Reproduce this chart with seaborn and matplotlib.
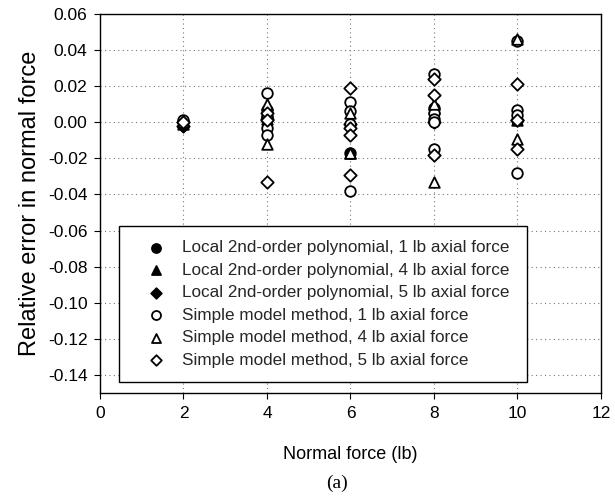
import matplotlib
matplotlib.use("Agg")
import matplotlib.pyplot as plt
import seaborn as sns
import pandas as pd

sns.set_theme(style="white")
plt.rcParams['font.family'] = ['Liberation Sans', 'DejaVu Sans']

# ---- data ----
series_names = [
    "Local 2nd-order polynomial, 1 lb axial force",
    "Local 2nd-order polynomial, 4 lb axial force",
    "Local 2nd-order polynomial, 5 lb axial force",
    "Simple model method, 1 lb axial force",
    "Simple model method, 4 lb axial force",
    "Simple model method, 5 lb axial force",
]
local1_x = [2, 4, 6, 8, 10]
local1_y = [0.000, 0.003, -0.017, 0.008, 0.001]
local4_x = [2, 4, 6, 8, 10]
local4_y = [-0.001, 0.002, -0.017, 0.008, 0.001]
local5_x = [2, 4, 6, 8, 10]
local5_y = [-0.002, 0.002, -0.001, 0.000, 0.001]
simple1_x = [2, 4, 4, 4, 4, 4, 6, 6, 6, 6, 8, 8, 8, 8, 8, 10, 10, 10, 10]
simple1_y = [0.001, 0.016, 0.007, 0.003, -0.003, -0.007,
             0.011, 0.006, -0.001, -0.038,
             0.027, 0.005, 0.002, 0.000, -0.015,
             0.045, 0.007, 0.004, -0.028]
simple4_x = [2, 4, 4, 6, 6, 8, 8, 10, 10]
simple4_y = [0.000, 0.010, -0.012, 0.005, -0.017, 0.010, -0.033, 0.046, -0.009]
simple5_x = [2, 4, 4, 4, 6, 6, 6, 6, 8, 8, 8, 10, 10, 10]
simple5_y = [0.000, 0.005, 0.001, -0.033,
             0.019, -0.003, -0.007, -0.029,
             0.024, 0.015, -0.018,
             0.021, 0.001, -0.015]

xs = [local1_x, local4_x, local5_x, simple1_x, simple4_x, simple5_x]
ys = [local1_y, local4_y, local5_y, simple1_y, simple4_y, simple5_y]
rows = []
for name, sx, sy in zip(series_names, xs, ys):
    for a, b in zip(sx, sy):
        rows.append({"Normal force": a, "Error": b, "Series": name})
df = pd.DataFrame(rows)

x_ticks = [0, 2, 4, 6, 8, 10, 12]
y_ticks = [0.06, 0.04, 0.02, 0.00, -0.02, -0.04, -0.06, -0.08, -0.10, -0.12, -0.14]

fig = plt.figure(figsize=(6.15, 4.98), dpi=100)
ax = fig.add_axes([0.1626, 0.2108, 0.8146, 0.7611])

markers = ["o", "^", "D", "o", "^", "D"]
sizes = [58, 58, 40, 58, 58, 40]
for i, name in enumerate(series_names):
    sub = df[df["Series"] == name]
    filled = i < 3
    sns.scatterplot(data=sub, x="Normal force", y="Error", ax=ax,
                    marker=markers[i], s=sizes[i],
                    color="black" if filled else "white",
                    edgecolor="black", linewidth=1.3, label=name, zorder=3)

ax.set_xlim(0, 12)
ax.set_ylim(-0.15, 0.06)
ax.set_xticks(x_ticks)
ax.set_yticks(y_ticks)
ax.set_xticklabels([str(t) for t in x_ticks])
ax.set_yticklabels([f"{t:.2f}" for t in y_ticks])
ax.grid(True, color="#777777", linestyle=(0, (1, 3)), linewidth=0.8)
ax.set_axisbelow(True)
for sp in ax.spines.values():
    sp.set_color("black")
    sp.set_linewidth(1.0)
ax.tick_params(axis="both", direction="out", length=4, width=0.8, color="black",
               labelsize=12.5, labelcolor="black", bottom=True, left=True, pad=5)
ax.set_xlabel("Normal force (lb)", fontsize=13, color="black", labelpad=18)
ax.set_ylabel("Relative error in normal force", fontsize=17, color="black", labelpad=5)

leg = ax.legend(loc="lower left", bbox_to_anchor=(0.038, 0.029, 0.815, 0.414),
                mode="expand", frameon=True, fancybox=False, framealpha=1,
                edgecolor="black", fontsize=12.3, handlelength=2.6,
                handletextpad=0.25, borderpad=0.84, labelspacing=0.44,
                borderaxespad=0, markerscale=0.85)
leg.get_frame().set_linewidth(1.0)

fig.text(0.548, 0.03, "(a)", fontsize=14, family="Liberation Serif",
         ha="center", va="center", color="black")

fig.savefig("out.png", dpi=100)
